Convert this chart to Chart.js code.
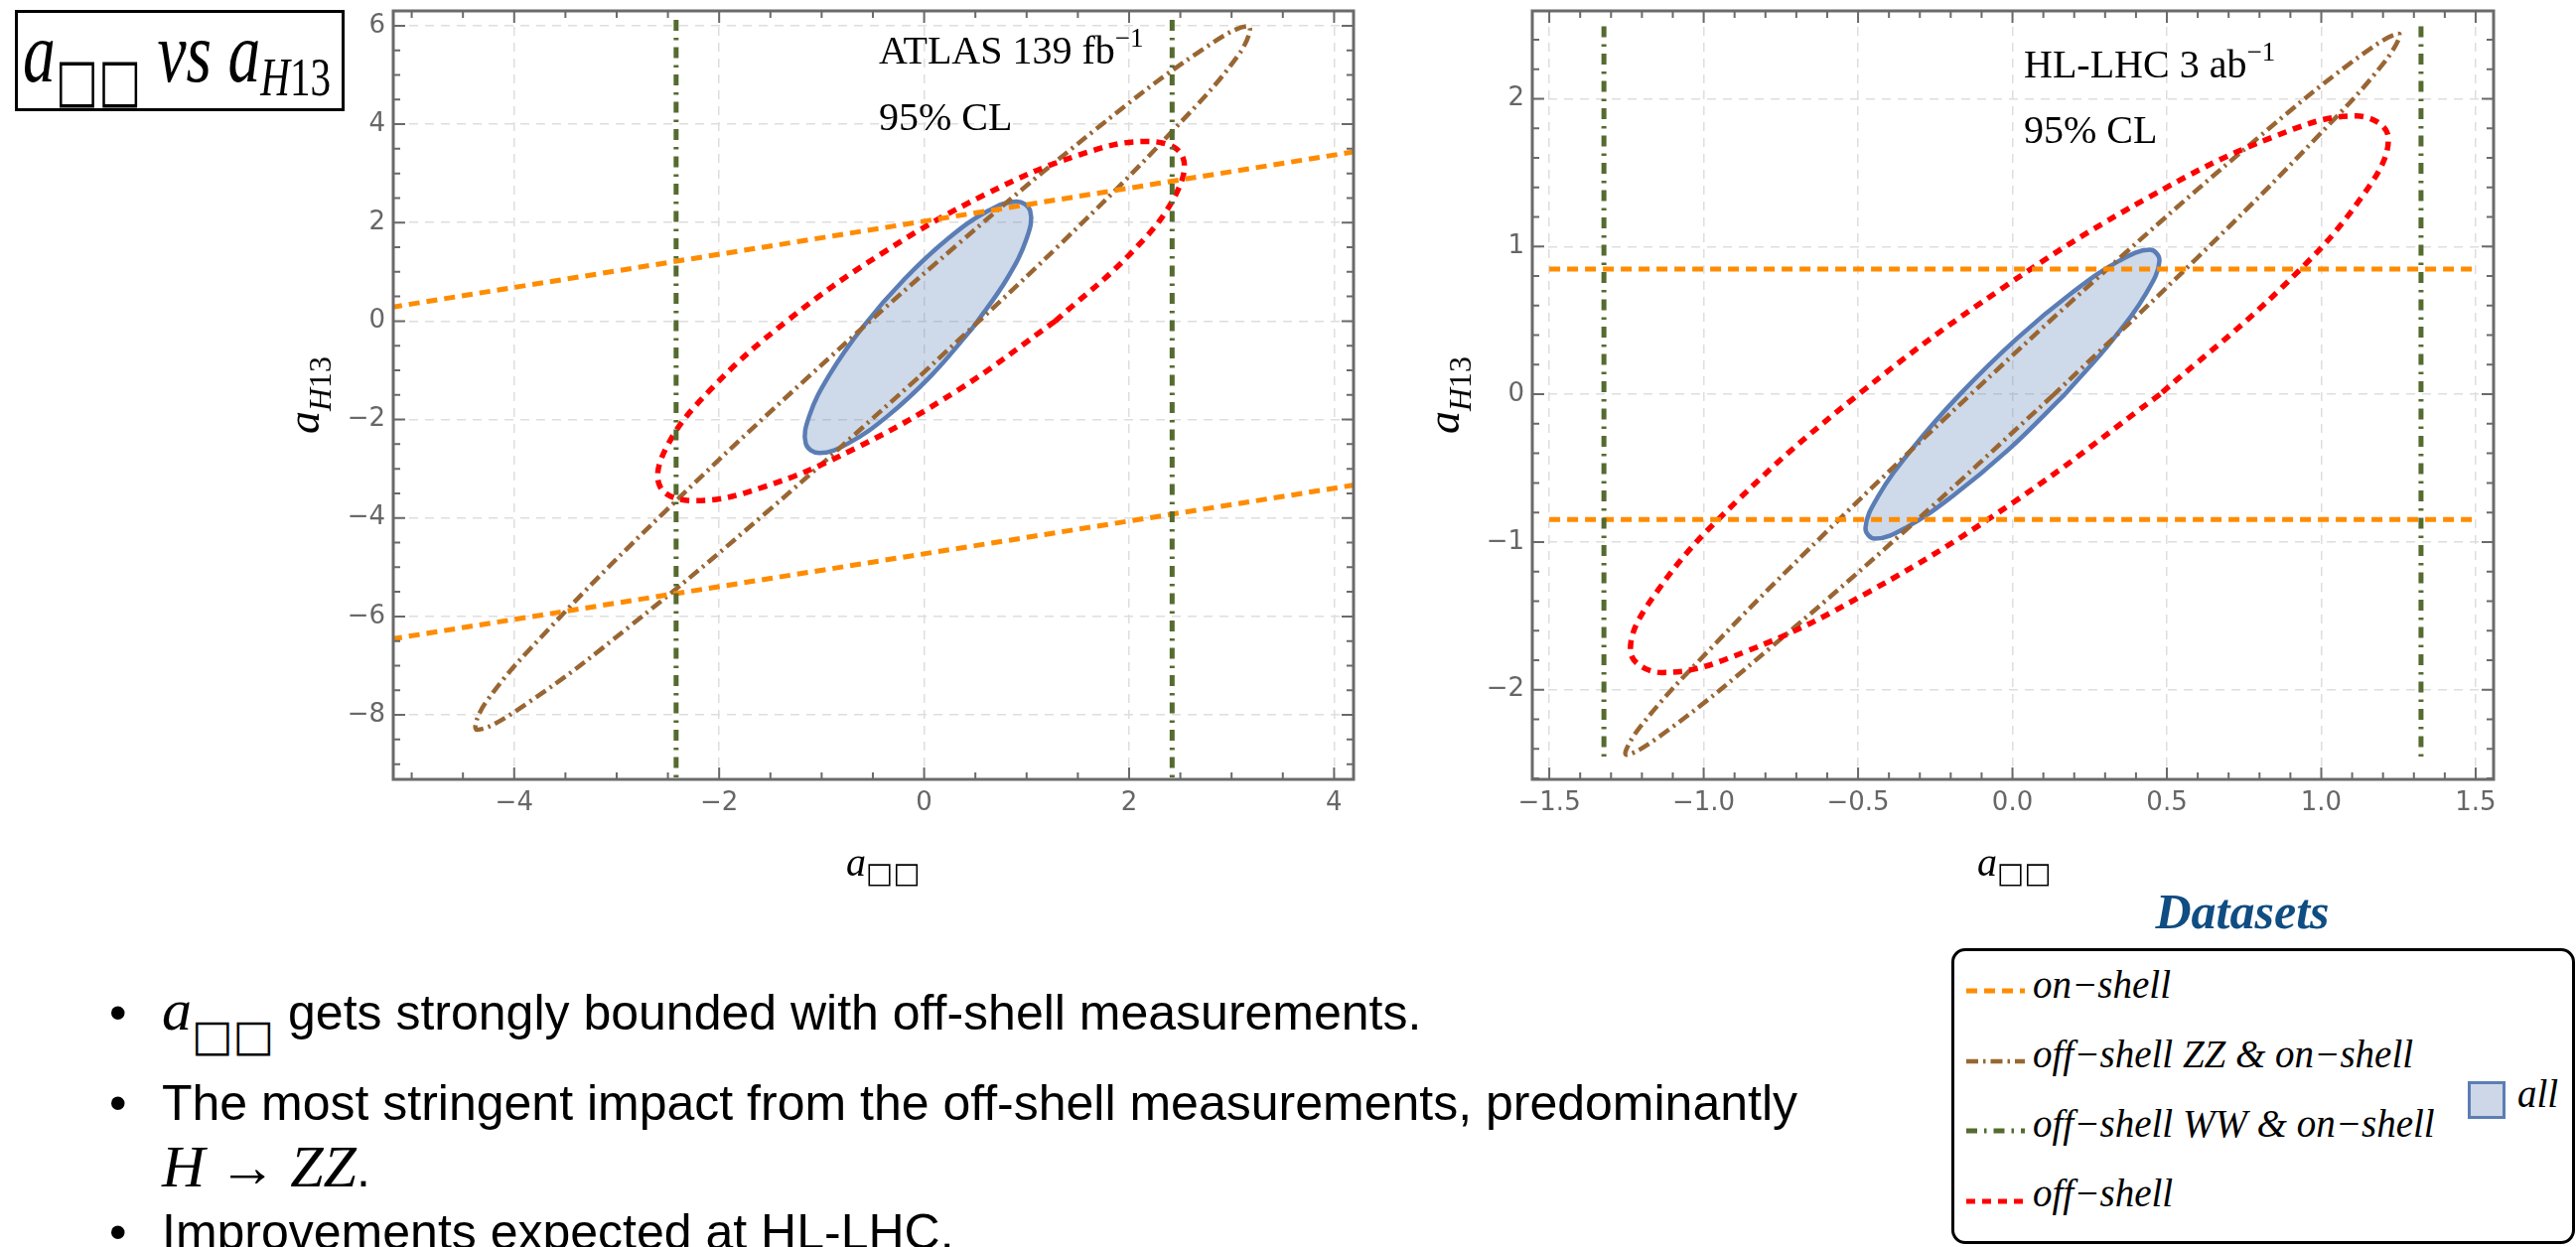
<!DOCTYPE html>
<html>
<head>
<meta charset="utf-8">
<script src="https://cdn.jsdelivr.net/npm/chart.js@4.4.1/dist/chart.umd.min.js"></script>
<style>
  html, body { margin: 0; padding: 0; background: #fff; }
  body { position: relative; width: 2594px; height: 1256px; overflow: hidden; font-family: 'Liberation Sans', Arial, sans-serif; color: #000; }
  .abs { position: absolute; white-space: nowrap; line-height: 1; }
  .serif { font-family: 'Liberation Serif', 'Times New Roman', serif; }
  .it { font-style: italic; }
  .up { font-style: normal; }
  .sq { font-family: 'DejaVu Sans', sans-serif; font-style: normal; }
  .in { line-height: 0; }
  canvas { position: absolute; top: 0; }
</style>
</head>
<body>

<canvas id="left" width="1130" height="870" style="left:250px;width:1130px;height:870px"></canvas>
<canvas id="right" width="1130" height="870" style="left:1400px;width:1130px;height:870px"></canvas>

<!-- headline box -->
<div class="abs" style="left:15px;top:10px;width:332px;height:102px;box-sizing:border-box;border:3px solid #000"></div>
<div id="titleText" class="abs serif it" style="left:23px;top:10px;font-size:86px;transform-origin:0 0">a<span class="sq in" style="font-size:60px;position:relative;top:19px">□□</span> vs a<span class="in" style="font-size:54px;position:relative;top:14px">H<span class="up">13</span></span></div>

<!-- panel annotations -->
<div class="abs serif" style="left:885px;top:31px;font-size:40px">ATLAS 139 fb<span class="in" style="font-size:27px;position:relative;top:-17px">−1</span></div>
<div class="abs serif" style="left:885px;top:98px;font-size:40px">95% CL</div>
<div class="abs serif" style="left:2038px;top:45px;font-size:40px">HL-LHC 3 ab<span class="in" style="font-size:27px;position:relative;top:-17px">−1</span></div>
<div class="abs serif" style="left:2038px;top:111px;font-size:40px">95% CL</div>

<!-- axis titles -->
<div class="abs serif" style="left:306px;top:398px;transform:translate(-50%,-50%) rotate(-90deg)"><span class="it" style="font-size:46px">a</span><span class="in" style="font-size:32px;position:relative;top:12px"><i>H</i>13</span></div>
<div class="abs serif" style="left:1454px;top:398px;transform:translate(-50%,-50%) rotate(-90deg)"><span class="it" style="font-size:46px">a</span><span class="in" style="font-size:32px;position:relative;top:12px"><i>H</i>13</span></div>
<div class="abs serif it" style="left:852px;top:849px;font-size:40px">a<span class="sq in" style="font-size:29px;position:relative;top:7px">□□</span></div>
<div class="abs serif it" style="left:1991px;top:849px;font-size:40px">a<span class="sq in" style="font-size:29px;position:relative;top:7px">□□</span></div>

<!-- bullet text -->
<div class="abs" style="left:110px;top:995px;font-size:50px">•</div>
<div class="abs" style="left:163px;top:995px;font-size:50px"><span class="serif it in" style="font-size:60px">a</span><span class="sq in" style="font-size:44px;position:relative;top:21px">□□</span> gets strongly bounded with off-shell measurements.</div>
<div class="abs" style="left:110px;top:1086px;font-size:50px">•</div>
<div class="abs" style="left:163px;top:1086px;font-size:50px">The most stringent impact from the off-shell measurements, predominantly</div>
<div class="abs" style="left:163px;top:1153px;font-size:50px"><span class="serif it in" style="font-size:60px">H</span> <span class="serif in" style="font-size:58px">→</span> <span class="serif it in" style="font-size:60px">ZZ</span>.</div>
<div class="abs" style="left:110px;top:1216px;font-size:50px">•</div>
<div class="abs" style="left:163px;top:1216px;font-size:50px">Improvements expected at HL-LHC.</div>

<!-- legend -->
<div class="abs serif it" style="left:2258px;top:893px;transform:translateX(-50%);font-size:50px;font-weight:bold;color:#0f4d82">Datasets</div>
<div class="abs" style="left:1965px;top:955px;width:628px;height:298px;box-sizing:border-box;border:3px solid #000;border-radius:14px"></div>
<svg class="abs" style="left:1975px;top:980px" width="70" height="245">
  <line x1="5" y1="18" x2="64" y2="18" stroke="#ff8c00" stroke-width="5" stroke-dasharray="11 7"/>
  <line x1="5" y1="89" x2="64" y2="89" stroke="#996633" stroke-width="4.5" stroke-dasharray="12 5 2.5 5"/>
  <line x1="5" y1="159" x2="64" y2="159" stroke="#556b2f" stroke-width="5" stroke-dasharray="11 7 2.5 7"/>
  <line x1="5" y1="230" x2="64" y2="230" stroke="#ff0000" stroke-width="5" stroke-dasharray="9 7"/>
</svg>
<div class="abs serif it" style="left:2047px;top:972px;font-size:39px">on−shell</div>
<div class="abs serif it" style="left:2047px;top:1042px;font-size:39px">off−shell ZZ &amp; on−shell</div>
<div class="abs serif it" style="left:2047px;top:1112px;font-size:39px">off−shell WW &amp; on−shell</div>
<div class="abs serif it" style="left:2047px;top:1182px;font-size:39px">off−shell</div>
<div class="abs" style="left:2485px;top:1089px;width:38px;height:38px;box-sizing:border-box;border:3px solid #5b7db5;background:#cdd7e8"></div>
<div class="abs serif it" style="left:2535px;top:1082px;font-size:39px">all</div>

<script>
// ---- left panel: ATLAS 139 fb^-1 ----
const atlasXTicks = [-4, -2, 0, 2, 4];
const atlasXLabels = ['−4', '−2', '0', '2', '4'];
const atlasYTicks = [-8, -6, -4, -2, 0, 2, 4, 6];
const atlasYLabels = ['−8', '−6', '−4', '−2', '0', '2', '4', '6'];

const atlasOnShellHi = [[-5.2, 0.28], [4.2, 3.44]];
const atlasOnShellLo = [[-5.2, -6.46], [4.2, -3.33]];
const atlasWWLeft = [[-2.42, 6.12], [-2.42, -9.35]];
const atlasWWRight = [[2.42, 6.12], [2.42, -9.35]];
const atlasZZ = [[-0.06, -1.155], [-1.541, -3.891], [-2.876, -6.207], [-3.867, -7.757], [-4.36, -8.3],
  [-4.281, -7.757], [-3.64, -6.207], [-2.539, -3.891], [-1.14, -1.155], [0.341, 1.582], [1.676, 3.897],
  [2.667, 5.447], [3.16, 5.99], [3.081, 5.447], [2.44, 3.897], [1.339, 1.582], [-0.06, -1.155]];
const atlasOffShell = [[1.28, 0], [0.334, -1.398], [-0.666, -2.581], [-1.57, -3.373], [-2.24, -3.65],
  [-2.574, -3.373], [-2.518, -2.581], [-2.086, -1.398], [-1.34, 0], [-0.394, 1.398], [0.606, 2.581],
  [1.51, 3.373], [2.18, 3.65], [2.514, 3.373], [2.458, 2.581], [2.026, 1.398], [1.28, 0]];
const atlasAll = [[0.48, -0.125], [0.071, -1.104], [-0.357, -1.931], [-0.741, -2.486], [-1.021, -2.68],
  [-1.155, -2.486], [-1.121, -1.931], [-0.927, -1.104], [-0.6, -0.125], [-0.191, 0.854], [0.237, 1.681],
  [0.621, 2.236], [0.901, 2.43], [1.035, 2.236], [1.001, 1.681], [0.807, 0.854], [0.48, -0.125]];

// ---- right panel: HL-LHC 3 ab^-1 ----
const hlXTicks = [-1.5, -1, -0.5, 0, 0.5, 1, 1.5];
const hlXLabels = ['−1.5', '−1.0', '−0.5', '0.0', '0.5', '1.0', '1.5'];
const hlYTicks = [-2, -1, 0, 1, 2];
const hlYLabels = ['−2', '−1', '0', '1', '2'];

const hlOnShellHi = [[-1.5, 0.847], [1.5, 0.847]];
const hlOnShellLo = [[-1.5, -0.847], [1.5, -0.847]];
const hlWWLeft = [[-1.323, 2.49], [-1.323, -2.49]];
const hlWWRight = [[1.323, 2.49], [1.323, -2.49]];
const hlZZ = [[0.135, 0], [-0.354, -0.935], [-0.789, -1.725], [-1.103, -2.255], [-1.25, -2.44],
  [-1.207, -2.255], [-0.979, -1.725], [-0.604, -0.935], [-0.135, 0], [0.354, 0.935], [0.789, 1.725],
  [1.103, 2.255], [1.25, 2.44], [1.207, 2.255], [0.979, 1.725], [0.604, 0.935], [0.135, 0]];
const hlOffShell = [[0.478, 0], [0.01, -0.722], [-0.46, -1.332], [-0.863, -1.741], [-1.135, -1.884],
  [-1.237, -1.741], [-1.15, -1.332], [-0.892, -0.722], [-0.498, 0], [-0.03, 0.722], [0.44, 1.332],
  [0.843, 1.741], [1.115, 1.884], [1.217, 1.741], [1.13, 1.332], [0.872, 0.722], [0.478, 0]];
const hlAll = [[0.17, 0], [-0.013, -0.375], [-0.195, -0.691], [-0.346, -0.904], [-0.445, -0.978],
  [-0.476, -0.904], [-0.435, -0.691], [-0.327, -0.375], [-0.17, 0], [0.013, 0.375], [0.195, 0.691],
  [0.346, 0.904], [0.445, 0.978], [0.476, 0.904], [0.435, 0.691], [0.327, 0.375], [0.17, 0]];

const ORANGE = '#ff8c00', BROWN = '#996633', GREEN = '#556b2f', RED = '#ff0000', BLUE = '#5b7db5';

// minor/major frame ticks, drawn inward on all four sides
const frameTicks = {
  left: { xMajor: atlasXTicks, yMajor: atlasYTicks, xStep: 0.5, yStep: 0.5 },
  right: { xMajor: hlXTicks, yMajor: hlYTicks, xStep: 0.1, yStep: 0.2 }
};

const framePlugin = {
  id: 'frame',
  afterDraw(chart) {
    const t = frameTicks[chart.canvas.id];
    const { ctx, chartArea: a } = chart;
    const sx = chart.scales.x, sy = chart.scales.y;
    const marks = (scale, major, step, draw) => {
      for (let k = Math.ceil(scale.min / step - 1e-9); k * step <= scale.max + 1e-9; k++) {
        const v = k * step;
        const isMajor = major.some(m => Math.abs(m - v) < 1e-6);
        draw(scale.getPixelForValue(v), isMajor ? 12 : 7);
      }
    };
    ctx.save();
    ctx.strokeStyle = '#6a6a6a';
    ctx.lineWidth = 2;
    ctx.beginPath();
    marks(sx, t.xMajor, t.xStep, (px, len) => {
      ctx.moveTo(px, a.bottom); ctx.lineTo(px, a.bottom - len);
      ctx.moveTo(px, a.top); ctx.lineTo(px, a.top + len);
    });
    marks(sy, t.yMajor, t.yStep, (py, len) => {
      ctx.moveTo(a.left, py); ctx.lineTo(a.left + len, py);
      ctx.moveTo(a.right, py); ctx.lineTo(a.right - len, py);
    });
    ctx.stroke();
    ctx.lineWidth = 3;
    ctx.strokeRect(a.left, a.top, a.right - a.left, a.bottom - a.top);
    ctx.restore();
  }
};

const pts = arr => arr.map(([x, y]) => ({ x, y }));

function curve(arr, color, dash, width, tension) {
  return {
    data: pts(arr), showLine: true, fill: false,
    borderColor: color, borderWidth: width, borderDash: dash, borderCapStyle: 'butt',
    pointRadius: 0, pointHoverRadius: 0, tension: tension
  };
}

function axis(min, max, ticks, labels, size, horizontal) {
  return {
    type: 'linear', min: min, max: max,
    afterBuildTicks: s => { s.ticks = ticks.map(v => ({ value: v })); },
    afterFit: s => {
      if (horizontal) { s.height = size; s.paddingLeft = 0; s.paddingRight = 0; }
      else { s.width = size; s.paddingTop = 0; s.paddingBottom = 0; }
    },
    ticks: {
      autoSkip: false, maxRotation: 0, padding: horizontal ? 9 : 8, color: '#666',
      font: { family: 'DejaVu Sans', size: 26 },
      callback: (v, i) => labels[i]
    },
    grid: { color: '#dedede', lineWidth: 1.5, drawTicks: false },
    border: { display: false, dash: [9, 7] }
  };
}

function panel(id, d) {
  return new Chart(document.getElementById(id), {
    type: 'scatter',
    data: {
      datasets: [
        curve(d.wwA, GREEN, [11, 7, 2.5, 7], 5, 0),
        curve(d.wwB, GREEN, [11, 7, 2.5, 7], 5, 0),
        curve(d.onA, ORANGE, [11, 7], 5, 0),
        curve(d.onB, ORANGE, [11, 7], 5, 0),
        curve(d.off, RED, [9, 7], 5.5, 0.4),
        curve(d.zz, BROWN, [12, 5, 2.5, 5], 4.5, 0.4),
        Object.assign(curve(d.all, BLUE, [], 4.5, 0.4), { fill: 'shape', backgroundColor: 'rgba(94,129,181,0.3)' })
      ]
    },
    options: {
      responsive: false, animation: false, devicePixelRatio: 1,
      layout: { padding: { top: 11, right: d.padRight, bottom: 0, left: 0 } },
      plugins: { legend: { display: false }, tooltip: { enabled: false } },
      scales: {
        x: axis(d.xMin, d.xMax, d.xTicks, d.xLabels, 85, true),
        y: axis(d.yMin, d.yMax, d.yTicks, d.yLabels, d.yWidth, false)
      }
    },
    plugins: [framePlugin]
  });
}

panel('left', {
  xMin: -5.18, xMax: 4.19, yMin: -9.31, yMax: 6.30, padRight: 17, yWidth: 146,
  xTicks: atlasXTicks, xLabels: atlasXLabels, yTicks: atlasYTicks, yLabels: atlasYLabels,
  wwA: atlasWWLeft, wwB: atlasWWRight, onA: atlasOnShellHi, onB: atlasOnShellLo,
  off: atlasOffShell, zz: atlasZZ, all: atlasAll
});

panel('right', {
  xMin: -1.555, xMax: 1.558, yMin: -2.607, yMax: 2.595, padRight: 19, yWidth: 143,
  xTicks: hlXTicks, xLabels: hlXLabels, yTicks: hlYTicks, yLabels: hlYLabels,
  wwA: hlWWLeft, wwB: hlWWRight, onA: hlOnShellHi, onB: hlOnShellLo,
  off: hlOffShell, zz: hlZZ, all: hlAll
});

// squeeze the headline into its box
const tt = document.getElementById('titleText');
tt.style.transform = 'scaleX(' + (310 / tt.offsetWidth) + ')';
</script>
</body>
</html>
